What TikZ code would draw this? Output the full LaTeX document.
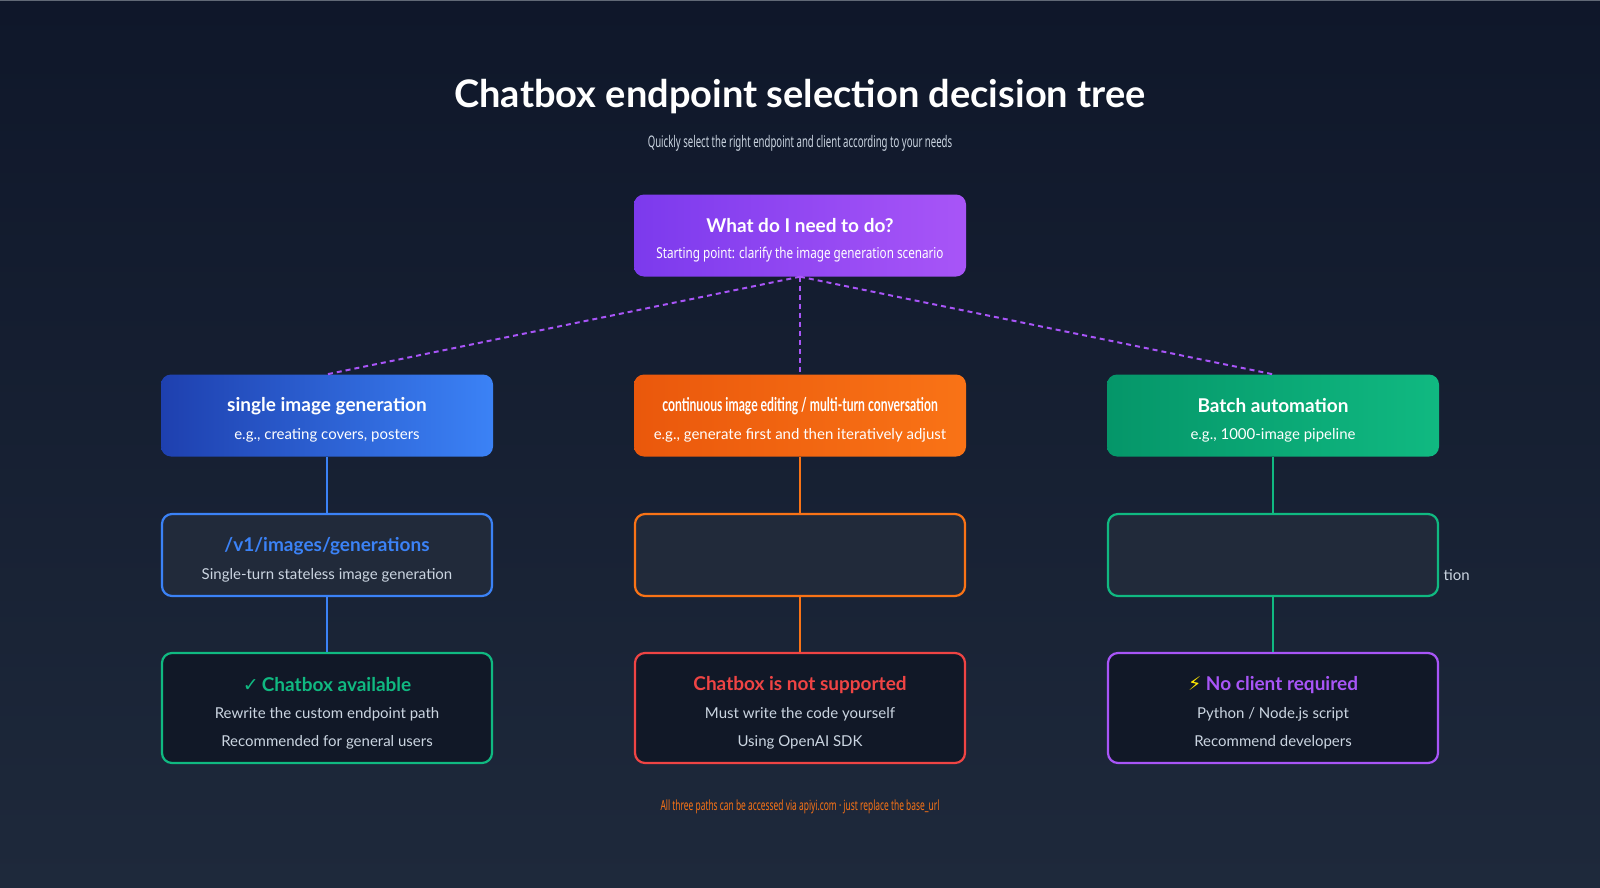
\documentclass[tikz,border=0pt]{standalone}
\usepackage{fontspec}
\setmainfont{Lato}
\newfontfamily\cond[FakeStretch=0.78]{Noto Sans}
\newfontfamily\condB[FakeStretch=0.6]{Noto Sans}
\newfontfamily\condC[FakeStretch=0.64]{Lato}
\newfontfamily\sym{DejaVu Sans}
\begin{document}
\begin{tikzpicture}[x=1pt,y=-1pt,
  box/.style={rounded corners=10pt,minimum width=332pt,minimum height=82pt,draw=none,align=center,text=white,inner sep=0pt},
  obox/.style={rounded corners=10pt,minimum width=330pt,line width=2.2pt,align=center,inner sep=0pt},
  ti/.style={font=\bfseries\fontsize{19}{22}\selectfont},
  su/.style={font=\fontsize{15}{18}\selectfont},
  conn/.style={line width=2pt},
  dashline/.style={line width=2pt,draw=vio,dash pattern=on 5pt off 4pt}]
\definecolor{bgA}{HTML}{0F172A}\definecolor{bgB}{HTML}{1E293B}
\definecolor{vio}{HTML}{A855F7}\definecolor{vioA}{HTML}{7C3AED}
\definecolor{blu}{HTML}{3B82F6}\definecolor{bluA}{HTML}{1E40AF}
\definecolor{org}{HTML}{F97316}\definecolor{orgA}{HTML}{EA580C}
\definecolor{grn}{HTML}{10B981}\definecolor{grnA}{HTML}{059669}
\definecolor{red}{HTML}{EF4444}
\definecolor{midf}{HTML}{212A3A}\definecolor{lowf}{HTML}{111827}
\definecolor{sub}{HTML}{CBD5E1}
\useasboundingbox (0,0) rectangle (1600,888);
\shade[top color=bgA,bottom color=bgB] (0,0) rectangle (1600,888);
\draw[bgB!70!white,line width=1pt] (0,0.5) -- (1600,0.5);
\node[text=white,font=\bfseries\fontsize{38}{42}\selectfont] (title) at (800,97) {Chatbox endpoint selection decision tree};
\node[text=sub,font=\condB\fontsize{16}{18}\selectfont] (subt) at (800,143) {Quickly select the right endpoint and client according to your needs};
% top
\node[box,left color=vioA,right color=vio] (top) at (800,235.5) {};
\node[ti,text=white] at (800,226) {What do I need to do?};
\node[font=\cond\fontsize{15}{18}\selectfont,text=white] at (800,255) {Starting point: clarify the image generation scenario};
% row 2
\node[box,left color=bluA,right color=blu] (b1) at (327,415.5) {};
\node[box,left color=orgA,right color=org] (b2) at (800,415.5) {};
\node[box,left color=grnA,right color=grn] (b3) at (1273,415.5) {};
\node[ti,text=white] at (327,406) {single image generation};
\node[su,text=white] at (327,435) {e.g., creating covers, posters};
\node[font=\condC\bfseries\fontsize{19}{22}\selectfont,text=white] at (800,406) {continuous image editing / multi-turn conversation};
\node[su,text=white] at (800,435) {e.g., generate first and then iteratively adjust};
\node[ti,text=white] at (1273,406) {Batch automation};
\node[su,text=white] at (1273,435) {e.g., 1000-image pipeline};
% dashed
\draw[dashline] (top.south) -- (b1.north);
\draw[dashline] (top.south) -- (b2.north);
\draw[dashline] (top.south) -- (b3.north);
% row 3
\node[obox,minimum height=82pt,fill=midf,draw=blu] (m1) at (327,555) {};
\node[obox,minimum height=82pt,fill=midf,draw=org] (m2) at (800,555) {};
\node[obox,minimum height=82pt,fill=midf,draw=grn] (m3) at (1273,555) {};
\node[ti,text=blu] at (327,546) {/v1/images/generations};
\node[su,text=sub] at (327,575) {Single-turn stateless image generation};
\node[su,text=sub,anchor=west] (tion) at (1440,575) {tion};
% row 4
\node[obox,minimum height=110pt,fill=lowf,draw=grn] (l1) at (327,708) {};
\node[obox,minimum height=110pt,fill=lowf,draw=red] (l2) at (800,708) {};
\node[obox,minimum height=110pt,fill=lowf,draw=vio] (l3) at (1273,708) {};
\node[ti,text=grn] at (327,685) {{\sym ✓}\,Chatbox available};
\node[su,text=sub] at (327,714) {Rewrite the custom endpoint path};
\node[su,text=sub] at (327,742) {Recommended for general users};
\node[ti,text=red] at (800,685) {Chatbox is not supported};
\node[su,text=sub] at (800,714) {Must write the code yourself};
\node[su,text=sub] at (800,742) {Using OpenAI SDK};
\node[ti,text=vio] at (1273,685) {{\sym\color{yellow!90!orange}⚡}\ No client required};
\node[su,text=sub] at (1273,714) {Python / Node.js script};
\node[su,text=sub] at (1273,742) {Recommend developers};
% connectors
\foreach \a/\b/\c in {b1/m1/blu,m1/l1/blu,b2/m2/org,m2/l2/org,b3/m3/grn,m3/l3/grn}
  \draw[conn,draw=\c] (\a.south) -- (\b.north);
\node[text=org,font=\condB\fontsize{14}{16}\selectfont] (foot) at (800,807) {All three paths can be accessed via apiyi.com · just replace the base\_url};
\end{tikzpicture}
\end{document}
